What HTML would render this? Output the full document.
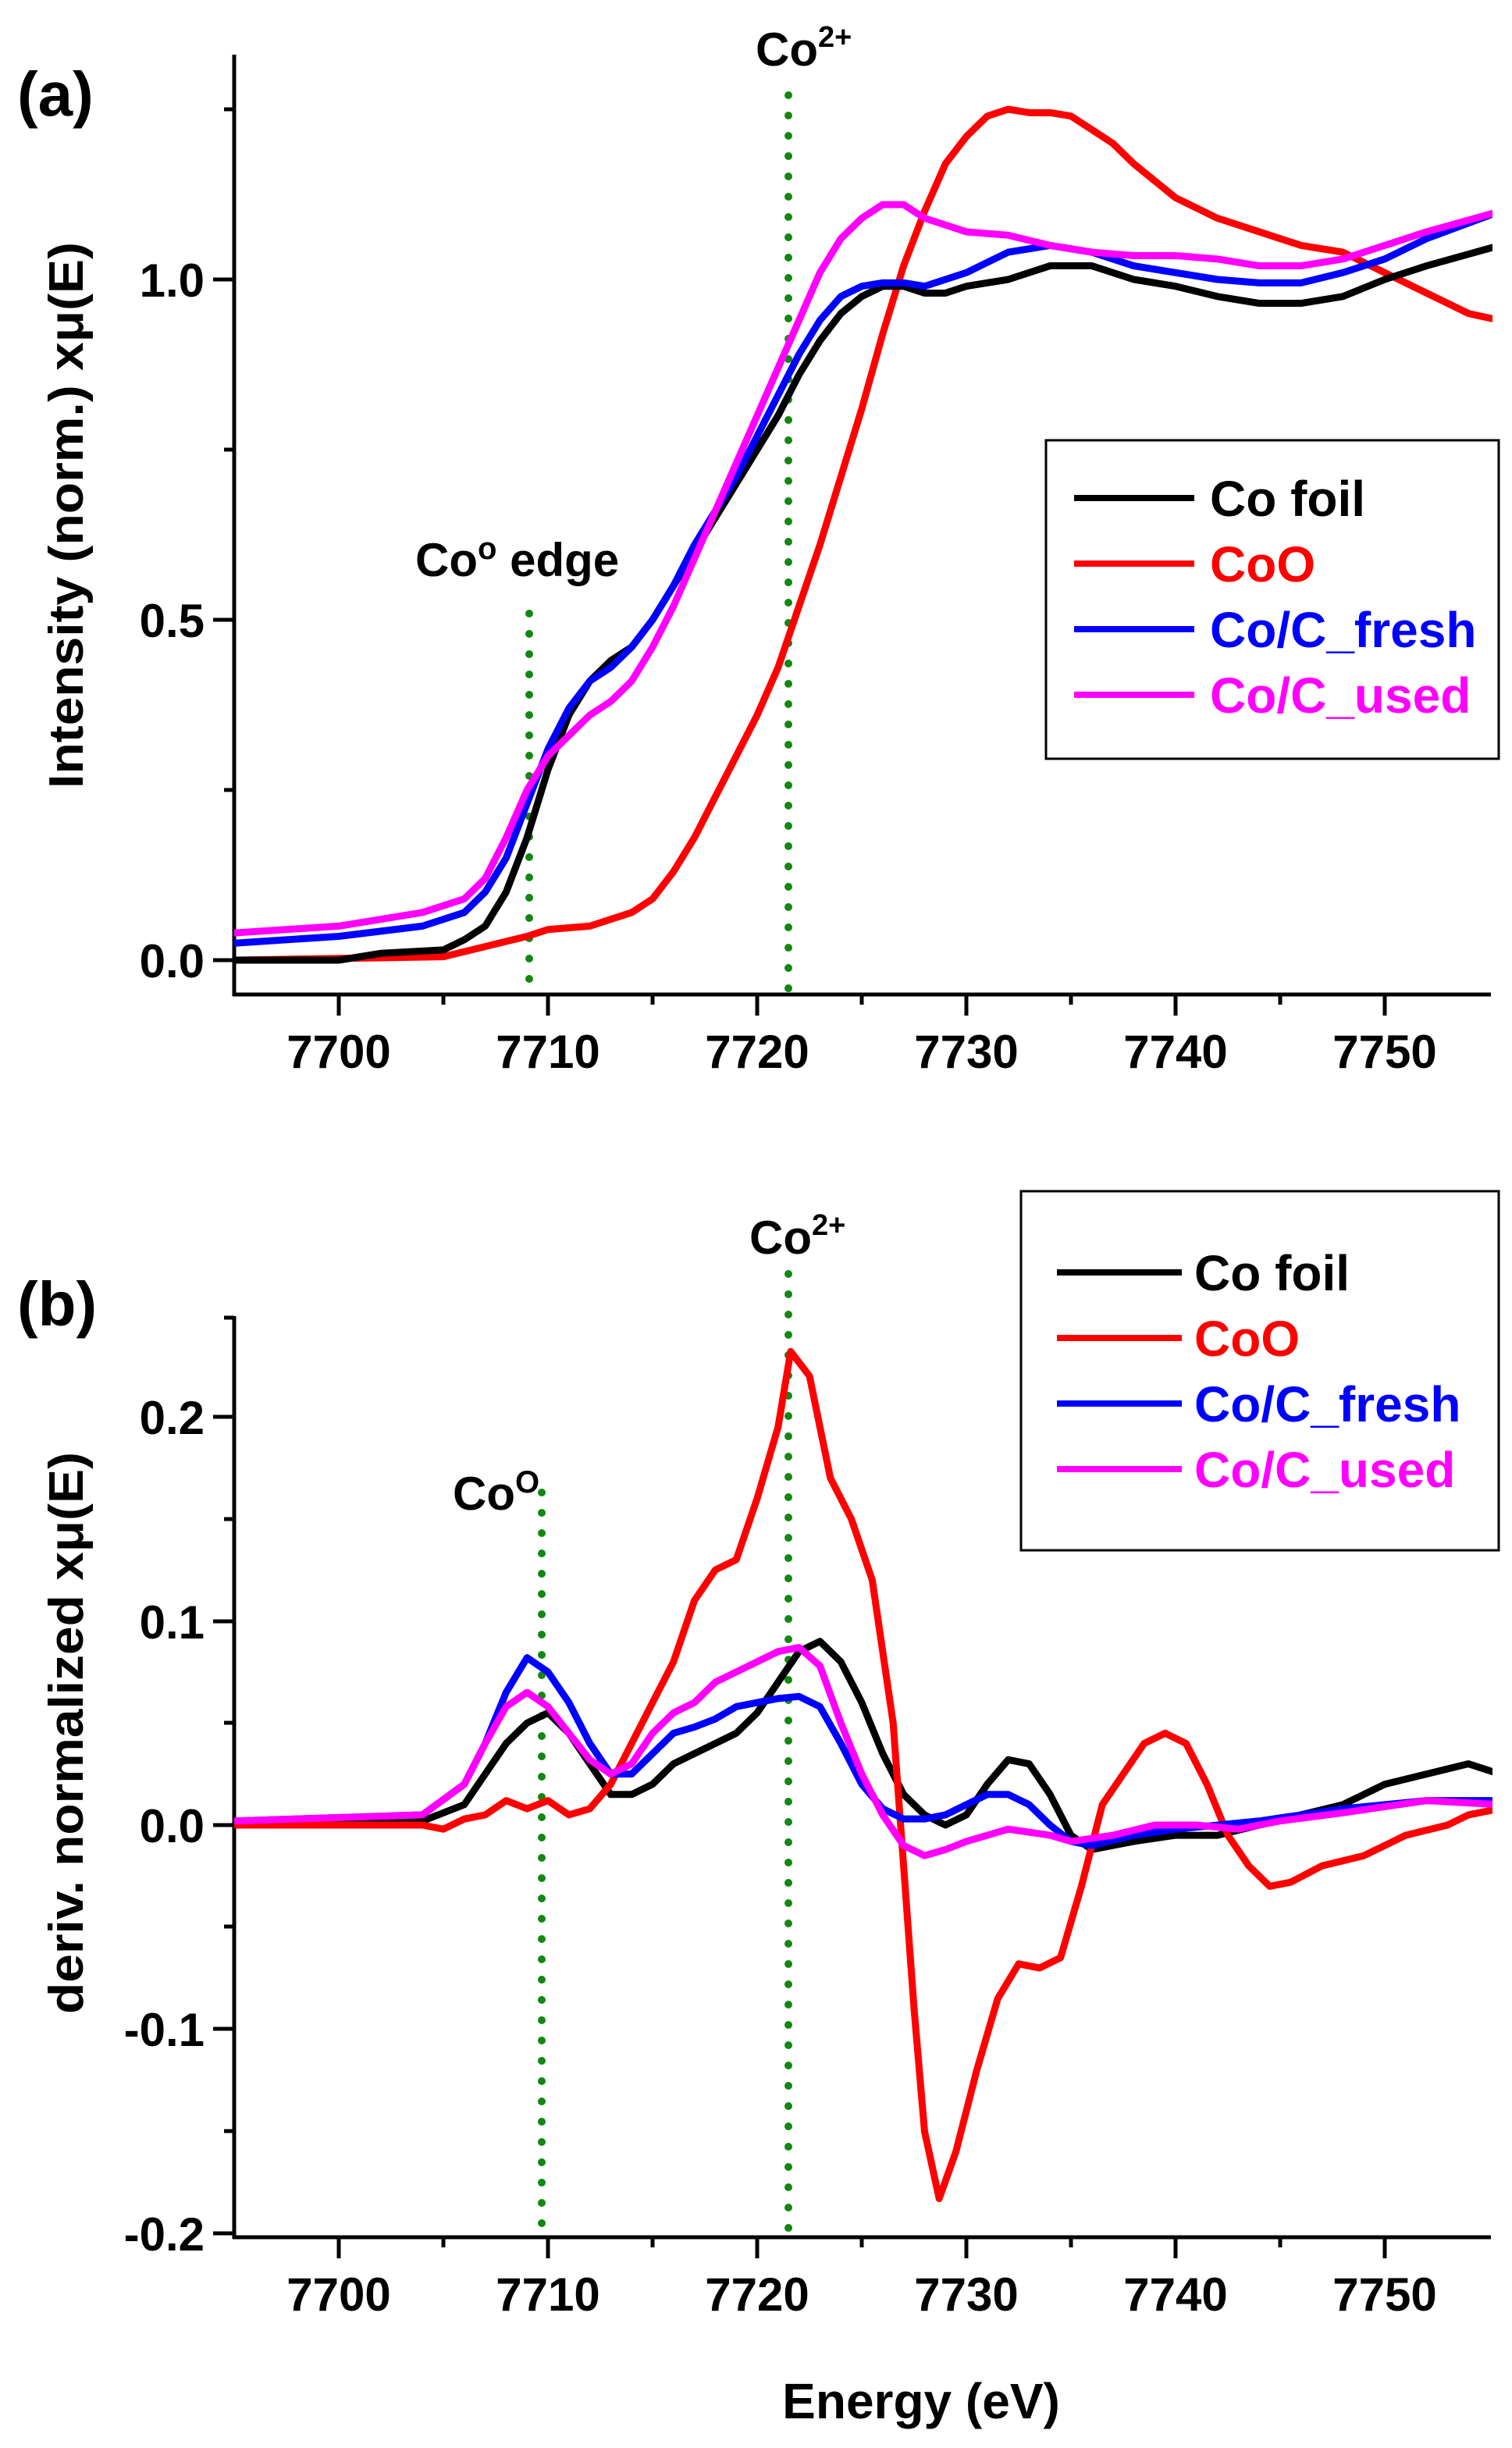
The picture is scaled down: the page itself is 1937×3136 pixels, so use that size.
<!DOCTYPE html>
<html><head><meta charset="utf-8"><style>
html,body{margin:0;padding:0;background:#fff}
svg{display:block}
text{font-family:"Liberation Sans",Arial,sans-serif;font-weight:bold;fill:#000}
.s{fill:none;stroke-width:9;vector-effect:non-scaling-stroke;stroke-linejoin:round}
</style></head><body>
<svg width="1937" height="3136" viewBox="0 0 1937 3136" xmlns="http://www.w3.org/2000/svg">
<defs>
<clipPath id="ca"><rect x="300" y="60" width="1612" height="1214"/></clipPath>
<clipPath id="cb"><rect x="300" y="1680" width="1612" height="1186"/></clipPath>
</defs>
<!-- Panel a -->
<text x="22" y="148" font-size="80">(a)</text>
<g stroke="#000" stroke-width="5">
<line x1="300" y1="70" x2="300" y2="1276"/>
<line x1="298" y1="1274" x2="1910" y2="1274"/>
<line x1="273" y1="1230" x2="300" y2="1230"/><line x1="273" y1="794" x2="300" y2="794"/><line x1="273" y1="358" x2="300" y2="358"/>
<line x1="287" y1="1012" x2="300" y2="1012"/><line x1="287" y1="576" x2="300" y2="576"/><line x1="287" y1="140" x2="300" y2="140"/>
<line x1="434" y1="1274" x2="434" y2="1301"/><line x1="702" y1="1274" x2="702" y2="1301"/><line x1="970" y1="1274" x2="970" y2="1301"/><line x1="1238" y1="1274" x2="1238" y2="1301"/><line x1="1506" y1="1274" x2="1506" y2="1301"/><line x1="1774" y1="1274" x2="1774" y2="1301"/>
<line x1="568" y1="1274" x2="568" y2="1287"/><line x1="836" y1="1274" x2="836" y2="1287"/><line x1="1104" y1="1274" x2="1104" y2="1287"/><line x1="1372" y1="1274" x2="1372" y2="1287"/><line x1="1640" y1="1274" x2="1640" y2="1287"/>
</g>
<g font-size="60" text-anchor="end">
<text x="262" y="1252">0.0</text><text x="262" y="816">0.5</text><text x="262" y="380">1.0</text>
</g>
<g font-size="60" text-anchor="middle">
<text x="434" y="1368">7700</text><text x="702" y="1368">7710</text><text x="970" y="1368">7720</text><text x="1238" y="1368">7730</text><text x="1506" y="1368">7740</text><text x="1774" y="1368">7750</text>
</g>
<text transform="translate(106,660) rotate(-90)" font-size="62" text-anchor="middle" textLength="700" lengthAdjust="spacingAndGlyphs">Intensity (norm.) xμ(E)</text>
<g stroke="#118811" stroke-width="10" stroke-linecap="round" stroke-dasharray="0 26">
<line x1="678" y1="786" x2="678" y2="1274"/>
<line x1="1010" y1="122" x2="1010" y2="1274"/>
</g>
<text x="968" y="84" font-size="60">Co<tspan font-size="38" dy="-24">2+</tspan></text>
<text x="532" y="738" font-size="60">Co<tspan font-size="40" dy="-22">o</tspan><tspan dy="22"> edge</tspan></text>
<g clip-path="url(#ca)"><g transform="matrix(26.8,0,0,-872,434,1230)">
<polyline class="s" stroke="#ff0000" points="-5,0 5,0.005 7,0.02 9,0.035 10,0.045 12,0.05 14,0.07 15,0.09 16,0.13 17,0.18 18,0.24 19,0.3 20,0.36 21,0.43 22,0.52 23,0.61 24,0.71 25,0.81 26,0.92 27,1.02 28,1.1 29,1.17 30,1.21 31,1.24 32,1.25 33,1.245 34,1.245 35,1.24 36,1.22 37,1.2 38,1.17 40,1.12 42,1.09 44,1.07 46,1.05 48,1.04 50,1.01 52,0.98 54,0.95 55.5,0.94"/>
<polyline class="s" stroke="#000" points="-5,0 0,0 2,0.01 5,0.015 6,0.03 7,0.05 8,0.1 9,0.18 10,0.28 11,0.36 12,0.41 13,0.44 14,0.46 15,0.5 16,0.55 17,0.6 18,0.65 19,0.7 20,0.75 21,0.8 22,0.86 23,0.91 24,0.95 25,0.975 26,0.99 27,0.99 28,0.98 29,0.98 30,0.99 32,1 34,1.02 36,1.02 38,1 40,0.99 42,0.975 44,0.965 46,0.965 48,0.975 50,1 52,1.02 55.5,1.05"/>
<polyline class="s" stroke="#0000ff" points="-5,0.025 0,0.035 4,0.05 6,0.07 7,0.1 8,0.15 9,0.23 10,0.31 11,0.37 12,0.41 13,0.43 14,0.46 15,0.5 16,0.55 17,0.61 18,0.66 19,0.71 20,0.77 21,0.83 22,0.89 23,0.94 24,0.975 25,0.99 26,0.995 27,0.995 28,0.99 29,1 30,1.01 32,1.04 34,1.05 36,1.04 38,1.02 40,1.01 42,1 44,0.995 46,0.995 48,1.01 50,1.03 52,1.06 55.5,1.1"/>
<polyline class="s" stroke="#ff00ff" points="-5,0.04 0,0.05 4,0.07 6,0.09 7,0.12 8,0.18 9,0.25 10,0.3 11,0.33 12,0.36 13,0.38 14,0.41 15,0.46 16,0.52 17,0.59 18,0.66 19,0.73 20,0.8 21,0.87 22,0.94 23,1.01 24,1.06 25,1.09 26,1.11 27,1.11 28,1.09 30,1.07 32,1.065 34,1.05 36,1.04 38,1.035 40,1.035 42,1.03 44,1.02 46,1.02 48,1.03 50,1.05 52,1.07 55.5,1.1"/>
</g></g>
<rect x="1340" y="564" width="580" height="408" fill="#fff" stroke="#000" stroke-width="3"/>
<g stroke-width="8">
<line x1="1376" y1="638" x2="1530" y2="638" stroke="#000"/>
<line x1="1376" y1="722" x2="1530" y2="722" stroke="#f00"/>
<line x1="1376" y1="806" x2="1530" y2="806" stroke="#00f"/>
<line x1="1376" y1="890" x2="1530" y2="890" stroke="#f0f"/>
</g>
<g font-size="64">
<text x="1550" y="661">Co foil</text>
<text x="1550" y="745" style="fill:#f00">CoO</text>
<text x="1550" y="829" style="fill:#00f">Co/C_fresh</text>
<text x="1550" y="913" style="fill:#f0f">Co/C_used</text>
</g>
<!-- Panel b -->
<text x="22" y="1698" font-size="80">(b)</text>
<g stroke="#000" stroke-width="5">
<line x1="300" y1="1686" x2="300" y2="2868"/>
<line x1="298" y1="2866" x2="1910" y2="2866"/>
<line x1="273" y1="2861" x2="300" y2="2861"/><line x1="273" y1="2599" x2="300" y2="2599"/><line x1="273" y1="2338" x2="300" y2="2338"/><line x1="273" y1="2077" x2="300" y2="2077"/><line x1="273" y1="1815" x2="300" y2="1815"/>
<line x1="287" y1="2730" x2="300" y2="2730"/><line x1="287" y1="2468" x2="300" y2="2468"/><line x1="287" y1="2207" x2="300" y2="2207"/><line x1="287" y1="1946" x2="300" y2="1946"/><line x1="287" y1="1688" x2="300" y2="1688"/>
<line x1="434" y1="2866" x2="434" y2="2893"/><line x1="702" y1="2866" x2="702" y2="2893"/><line x1="970" y1="2866" x2="970" y2="2893"/><line x1="1238" y1="2866" x2="1238" y2="2893"/><line x1="1506" y1="2866" x2="1506" y2="2893"/><line x1="1774" y1="2866" x2="1774" y2="2893"/>
<line x1="568" y1="2866" x2="568" y2="2879"/><line x1="836" y1="2866" x2="836" y2="2879"/><line x1="1104" y1="2866" x2="1104" y2="2879"/><line x1="1372" y1="2866" x2="1372" y2="2879"/><line x1="1640" y1="2866" x2="1640" y2="2879"/>
</g>
<g font-size="60" text-anchor="end">
<text x="262" y="2883">-0.2</text><text x="262" y="2621">-0.1</text><text x="262" y="2360">0.0</text><text x="262" y="2099">0.1</text><text x="262" y="1837">0.2</text>
</g>
<g font-size="60" text-anchor="middle">
<text x="434" y="2960">7700</text><text x="702" y="2960">7710</text><text x="970" y="2960">7720</text><text x="1238" y="2960">7730</text><text x="1506" y="2960">7740</text><text x="1774" y="2960">7750</text>
</g>
<text x="1180" y="3098" font-size="64" text-anchor="middle">Energy (eV)</text>
<text transform="translate(106,2220) rotate(-90)" font-size="62" text-anchor="middle" textLength="720" lengthAdjust="spacingAndGlyphs">deriv. normalized xμ(E)</text>
<g stroke="#118811" stroke-width="10" stroke-linecap="round" stroke-dasharray="0 26">
<line x1="694" y1="1912" x2="694" y2="2866"/>
<line x1="1010" y1="1632" x2="1010" y2="2866"/>
</g>
<text x="960" y="1606" font-size="60">Co<tspan font-size="38" dy="-24">2+</tspan></text>
<text x="580" y="1934" font-size="60">Co<tspan font-size="40" dy="-22">O</tspan></text>
<g clip-path="url(#cb)"><g transform="matrix(26.8,0,0,-2615,434,2338)">
<polyline class="s" stroke="#000" points="-5,0 4,0.002 6,0.01 7,0.025 8,0.04 9,0.05 10,0.055 11,0.045 12,0.03 13,0.015 14,0.015 15,0.02 16,0.03 17,0.035 18,0.04 19,0.045 20,0.055 21,0.07 22,0.085 23,0.09 24,0.08 25,0.06 26,0.035 27,0.015 28,0.005 29,0 30,0.005 31,0.02 32,0.032 33,0.03 34,0.015 35,-0.005 36,-0.012 38,-0.008 40,-0.005 42,-0.005 44,0 46,0.005 48,0.01 50,0.02 52,0.025 54,0.03 55.5,0.025"/>
<polyline class="s" stroke="#ff0000" points="-5,0 4,0 5,-0.002 6,0.003 7,0.005 8,0.012 9,0.008 10,0.012 11,0.005 12,0.008 13,0.02 14,0.04 15,0.06 16,0.08 17,0.11 18,0.125 19,0.13 20,0.16 21,0.195 21.6,0.232 22.5,0.22 23.5,0.17 24.5,0.15 25.5,0.12 26.5,0.05 27,-0.02 27.5,-0.09 28,-0.15 28.7,-0.183 29.5,-0.16 30.5,-0.12 31.5,-0.085 32.5,-0.068 33.5,-0.07 34.5,-0.065 35.5,-0.03 36.5,0.01 37.5,0.025 38.5,0.04 39.5,0.045 40.5,0.04 41.5,0.02 42.5,-0.005 43.5,-0.02 44.5,-0.03 45.5,-0.028 47,-0.02 49,-0.015 51,-0.005 53,0 54,0.005 55.5,0.008"/>
<polyline class="s" stroke="#0000ff" points="-5,0.002 4,0.005 6,0.02 7,0.04 8,0.065 9,0.082 10,0.075 11,0.06 12,0.04 13,0.025 14,0.025 15,0.035 16,0.045 17,0.048 18,0.052 19,0.058 20,0.06 21,0.062 22,0.063 23,0.058 24,0.04 25,0.02 26,0.008 27,0.003 28,0.003 29,0.005 30,0.01 31,0.015 32,0.015 33,0.01 34,0 35,-0.008 36,-0.01 38,-0.005 40,-0.002 44,0.002 48,0.008 52,0.012 55.5,0.012"/>
<polyline class="s" stroke="#ff00ff" points="-5,0.002 4,0.005 6,0.02 7,0.04 8,0.058 9,0.065 10,0.058 11,0.045 12,0.032 13,0.025 14,0.03 15,0.045 16,0.055 17,0.06 18,0.07 19,0.075 20,0.08 21,0.085 22,0.087 23,0.078 24,0.05 25,0.025 26,0.005 27,-0.01 28,-0.015 29,-0.012 30,-0.008 32,-0.002 34,-0.005 35,-0.008 37,-0.005 39,0 41,0 43,-0.002 45,0.002 48,0.006 52,0.012 55.5,0.01"/>
</g></g>
<rect x="1308" y="1526" width="612" height="460" fill="#fff" stroke="#000" stroke-width="3"/>
<g stroke-width="8">
<line x1="1354" y1="1630" x2="1514" y2="1630" stroke="#000"/>
<line x1="1354" y1="1714" x2="1514" y2="1714" stroke="#f00"/>
<line x1="1354" y1="1798" x2="1514" y2="1798" stroke="#00f"/>
<line x1="1354" y1="1882" x2="1514" y2="1882" stroke="#f0f"/>
</g>
<g font-size="64">
<text x="1530" y="1653">Co foil</text>
<text x="1530" y="1737" style="fill:#f00">CoO</text>
<text x="1530" y="1821" style="fill:#00f">Co/C_fresh</text>
<text x="1530" y="1905" style="fill:#f0f">Co/C_used</text>
</g>
</svg>
</body></html>
